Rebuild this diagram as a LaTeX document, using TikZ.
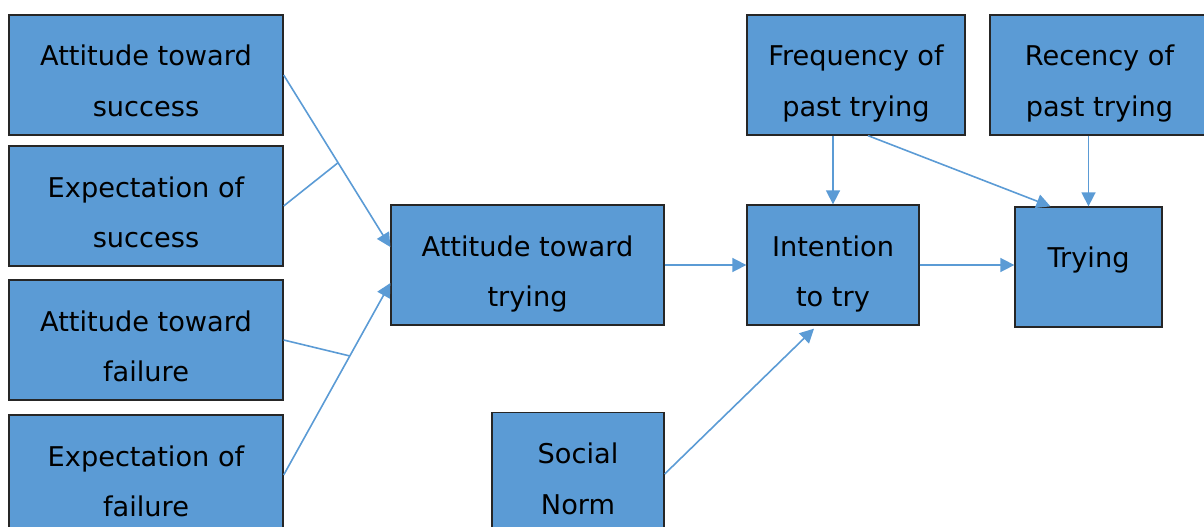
\documentclass[tikz,border=0pt]{standalone}
\usepackage{fontspec}
\setmainfont{DejaVu Sans}
\usetikzlibrary{arrows.meta,calc}
\definecolor{boxblue}{RGB}{91,155,213}
\definecolor{linkblue}{RGB}{91,155,213}
\tikzset{
  factor/.style={draw=black!85, line width=1.3pt, fill=boxblue, inner sep=0pt},
  label line/.style={anchor=base, inner sep=0pt, font=\fontsize{27.2}{30}\selectfont},
  link/.style={draw=linkblue, line width=1.6pt},
  arrowlink/.style={link, -{Triangle[length=14pt,width=14pt]}}
}
% two text lines inside a box: baselines 9pt above and 41.7pt below its centre
\newcommand\twolines[3]{%
  \node[label line] (#1-1) at ([yshift=9pt]#1.center) {#2};
  \node[label line] (#1-2) at ([yshift=-41.7pt]#1.center) {#3};}
\begin{document}
\begin{tikzpicture}[x=1pt,y=-1pt]
\useasboundingbox (0,0) rectangle (1204,527);
\clip (0,0) rectangle (1204,527);

% boxes
\node[factor, minimum width=274pt, minimum height=120pt] (a1) at (146,75) {};
\node[factor, minimum width=274pt, minimum height=120pt] (a2) at (146,206) {};
\node[factor, minimum width=274pt, minimum height=120pt] (a3) at (146,340) {};
\node[factor, minimum width=274pt, minimum height=120pt] (a4) at (146,475) {};
\node[factor, minimum width=273pt, minimum height=120pt] (att) at (527.5,265) {};
\node[factor, minimum width=172pt, minimum height=120pt] (int) at (833,265) {};
\node[factor, minimum width=147pt, minimum height=120pt] (try) at (1088.5,267) {};
\node[factor, minimum width=218pt, minimum height=120pt] (freq) at (856,75) {};
\node[factor, minimum width=219pt, minimum height=120pt] (rec) at (1099.5,75) {};
\node[factor, minimum width=172pt, minimum height=120pt] (sn) at (578,472.5) {};

% texts
\twolines{a1}{Attitude toward}{success}
\twolines{a2}{Expectation of}{success}
\twolines{a3}{Attitude toward}{failure}
\twolines{a4}{Expectation of}{failure}
\twolines{att}{Attitude toward}{trying}
\twolines{int}{Intention}{to try}
\twolines{freq}{Frequency of}{past trying}
\twolines{rec}{Recency of}{past trying}
\twolines{sn}{Social}{Norm}
\node[label line] (try-1) at (try.center) {Trying};

% connectors
\coordinate (t1) at ([yshift=18pt]att.west);
\coordinate (t2) at ([yshift=-18pt]att.west);
\coordinate (j1) at ($(a1.east)!0.51!(t1)$);
\coordinate (j2) at ($(a4.east)!0.62!(t2)$);
\draw[arrowlink] (a1.east) -- (t1);
\draw[link] (a2.east) -- (j1);
\draw[arrowlink] (a4.east) -- (t2);
\draw[link] (a3.east) -- (j2);

\draw[arrowlink] (att.east) -- (int.west);
\draw[arrowlink] (int.east) -- (int.east -| try.west);
\draw[arrowlink] (int.north |- freq.south) -- (int.north);
\draw[arrowlink] ([xshift=12pt]freq.south) -- ([xshift=-38pt]try.north);
\draw[arrowlink] (try.north |- rec.south) -- (try.north);
\draw[arrowlink] ([yshift=-1.5pt]sn.east) -- ([xshift=-19pt,yshift=-3pt]int.south);
\end{tikzpicture}
\end{document}
